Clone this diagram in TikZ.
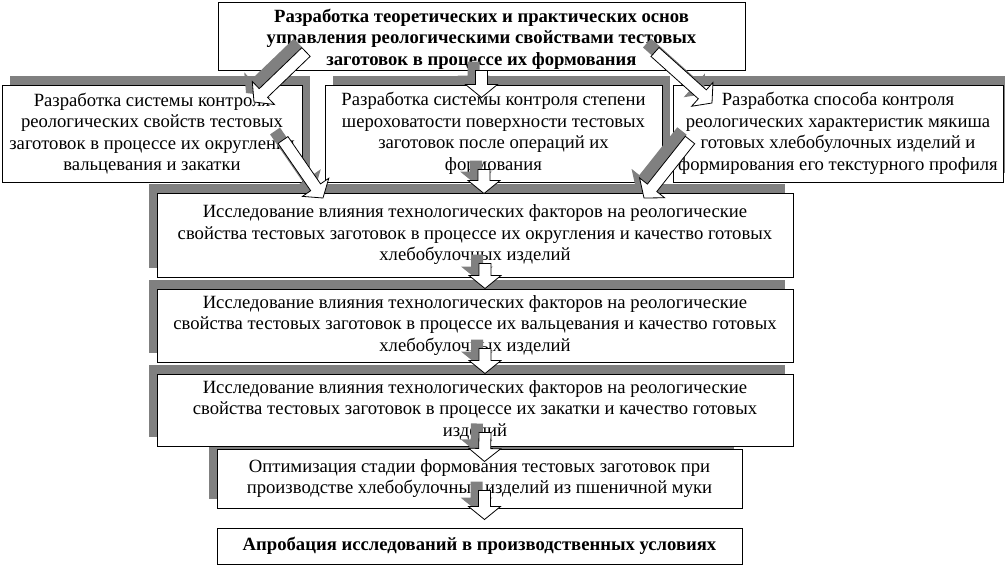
\documentclass[tikz,border=0pt]{standalone}
\usepackage{fontspec}
\setmainfont{Liberation Serif}
\usetikzlibrary{calc,shadows}

\newcommand\boxfont{\fontsize{18.67}{21.5}\selectfont}

\tikzset{
  box/.style={draw, fill=white, line width=1pt, inner sep=0pt, align=center, font=\boxfont},
  shadeul/.style={drop shadow={shadow xshift=-8pt, shadow yshift=9pt, fill=gray, opacity=1}},
  shadeur/.style={drop shadow={shadow xshift=8pt, shadow yshift=9pt, fill=gray, opacity=1}},
  arrowbody/.style={draw, fill=white, line width=0.8pt, line join=miter},
  arrowshade/.style={fill=gray},
}

% outline of a block arrow from #1 to #2, moved by #3
\newcommand\arrowpoly[3]{%
  ($(#1)!6pt!90:(#2)+(#3)$) -- ($(hb)!6pt!90:(#2)+(#3)$) --
  ($(hb)!16pt!90:(#2)+(#3)$) -- ($(#2)+(#3)$) --
  ($(hb)!16pt!-90:(#2)+(#3)$) -- ($(hb)!6pt!-90:(#2)+(#3)$) --
  ($(#1)!6pt!-90:(#2)+(#3)$) -- cycle}
\newcommand\blockarrow[2]{%
  \coordinate (hb) at ($(#2)!13pt!(#1)$);
  \fill[arrowshade] \arrowpoly{#1}{#2}{-8,-9};
  \draw[arrowbody] \arrowpoly{#1}{#2}{0,0};
}

\begin{document}
\begin{tikzpicture}[x=1pt, y=-1pt]
  \useasboundingbox (0,0) rectangle (1005,566);
  % last two steps
  \node[box, font=\boxfont\bfseries, minimum width=525, minimum height=36] (test) at (479.5,546)
    {Апробация исследований в производственных условиях};
  \node[box, shadeul, minimum width=525, minimum height=59] (optim) at (479.5,478.5)
    {Оптимизация стадии формования тестовых заготовок при\\
     производстве хлебобулочных изделий из пшеничной муки};
  % studies
  \node[box, shadeul, minimum width=636, minimum height=72] (studyC) at (475,410)
    {Исследование влияния технологических факторов на реологические\\
     свойства тестовых заготовок в процессе их закатки и качество готовых\\
     изделий};
  \node[box, shadeul, minimum width=636, minimum height=73] (studyB) at (475,325.5)
    {Исследование влияния технологических факторов на реологические\\
     свойства тестовых заготовок в процессе их вальцевания и качество готовых\\
     хлебобулочных изделий};
  \node[box, shadeul, minimum width=636, minimum height=84] (studyA) at (475,235)
    {Исследование влияния технологических факторов на реологические\\
     свойства тестовых заготовок в процессе их округления и качество готовых\\
     хлебобулочных изделий};
  % control methods
  \node[box, shadeur, minimum width=300, minimum height=97] (ctrlA) at (152,133.5)
    {Разработка системы контроля\\
     реологических свойств тестовых\\
     заготовок в процессе их округления\\
     вальцевания и закатки};
  \node[box, shadeur, minimum width=337, minimum height=97] (ctrlB) at (493.5,133.5)
    {Разработка системы контроля степени\\
     шероховатости поверхности тестовых\\
     заготовок после операций их\\
     формования};
  \node[box, shadeur, minimum width=330, minimum height=97] (ctrlC) at (838,133.5)
    {Разработка способа контроля\\
     реологических характеристик мякиша\\
     готовых хлебобулочных изделий и\\
     формирования его текстурного профиля};
  % goal
  \node[box, font=\boxfont\bfseries, minimum width=527, minimum height=68] (goal) at (481.5,36)
    {\rule{0pt}{19pt}Разработка теоретических и практических основ\\
     управления реологическими свойствами тестовых\\
     заготовок в процессе их формования};
  % free ends of the block arrows
  \coordinate (g1) at (306,52);
  \coordinate (g2) at (655,52);
  \coordinate (c1) at (283,140);
  \coordinate (c3) at (690,140);
  \coordinate (tA) at (254,102);
  \coordinate (tC) at (712,103);
  \coordinate (sA) at (323,198);
  \coordinate (sC) at (644,198);
  % block arrows
  \blockarrow{goal.south}{$(goal.south)+(0,27)$}
  \blockarrow{g1}{tA}
  \blockarrow{g2}{tC}
  \blockarrow{c1}{sA}
  \blockarrow{c3}{sC}
  \blockarrow{$(studyA.north)+(9,-23)$}{$(studyA.north)+(9,1)$}
  \blockarrow{$(studyA.south)+(10,-14)$}{$(studyB.north)+(10,0)$}
  \blockarrow{$(studyB.south)+(10,-14)$}{$(studyC.north)+(10,0)$}
  \blockarrow{$(studyC.south)+(10,-14)$}{$(optim.north)+(5,13)$}
  \blockarrow{$(optim.south)+(5,-18)$}{$(test.north)+(5,-8)$}
\end{tikzpicture}
\end{document}
